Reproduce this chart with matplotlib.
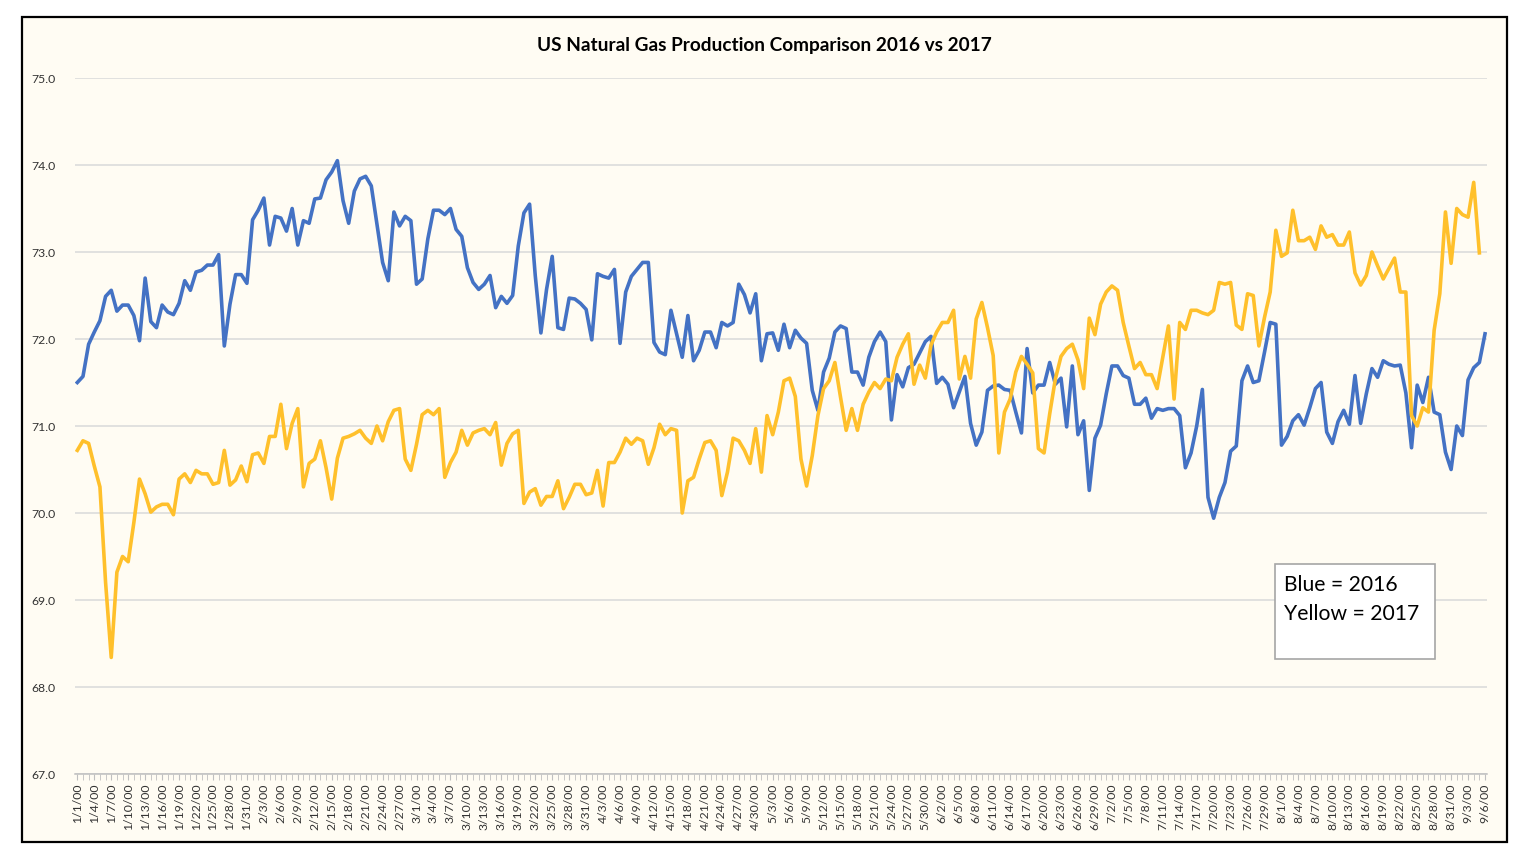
import matplotlib.pyplot as plt
import matplotlib.patches as patches
import pandas as pd
import numpy as np

plt.rcParams['font.family'] = ['Lato', 'DejaVu Sans']

# daily production, bcf/d
prod_2016 = [
    71.50, 71.57, 71.94, 72.08, 72.21, 72.49, 72.56, 72.32, 72.39, 72.39,
    72.27, 71.98, 72.70, 72.20, 72.13, 72.39, 72.31, 72.28, 72.41, 72.67,
    72.56, 72.77, 72.79, 72.85, 72.85, 72.97, 71.92, 72.40, 72.74, 72.74,
    72.64, 73.37, 73.48, 73.62, 73.08, 73.41, 73.39, 73.24, 73.50, 73.08,
    73.36, 73.33, 73.61, 73.62, 73.83, 73.92, 74.05, 73.59, 73.33, 73.70,
    73.84, 73.87, 73.76, 73.32, 72.88, 72.67, 73.46, 73.30, 73.41, 73.36,
    72.63, 72.69, 73.15, 73.48, 73.48, 73.43, 73.50, 73.26, 73.18, 72.82,
    72.65, 72.57, 72.63, 72.73, 72.36, 72.49, 72.41, 72.50, 73.07, 73.45,
    73.55, 72.73, 72.07, 72.57, 72.95, 72.13, 72.11, 72.47, 72.46, 72.41,
    72.34, 71.99, 72.75, 72.72, 72.70, 72.80, 71.95, 72.54, 72.72, 72.80,
    72.88, 72.88, 71.96, 71.85, 71.82, 72.33, 72.06, 71.79, 72.27, 71.75,
    71.87, 72.08, 72.08, 71.90, 72.19, 72.15, 72.19, 72.63, 72.51, 72.30,
    72.52, 71.75, 72.06, 72.07, 71.87, 72.17, 71.90, 72.10, 72.01, 71.95,
    71.41, 71.18, 71.62, 71.78, 72.08, 72.15, 72.12, 71.62, 71.62, 71.47,
    71.79, 71.97, 72.08, 71.97, 71.07, 71.59, 71.45, 71.67, 71.71, 71.84,
    71.97, 72.03, 71.49, 71.56, 71.48, 71.21, 71.39, 71.57, 71.03, 70.78,
    70.93, 71.41, 71.46, 71.47, 71.42, 71.41, 71.16, 70.92, 71.89, 71.38,
    71.47, 71.47, 71.73, 71.48, 71.55, 70.99, 71.69, 70.90, 71.06, 70.26,
    70.86, 71.01, 71.37, 71.69, 71.69, 71.58, 71.55, 71.25, 71.25, 71.32,
    71.09, 71.20, 71.18, 71.20, 71.20, 71.12, 70.52, 70.69, 71.00, 71.42,
    70.18, 69.94, 70.18, 70.35, 70.71, 70.77, 71.52, 71.69, 71.50, 71.52,
    71.85, 72.19, 72.17, 70.78, 70.88, 71.06, 71.13, 71.01, 71.21, 71.43,
    71.50, 70.93, 70.80, 71.05, 71.18, 71.02, 71.58, 71.03, 71.37, 71.66,
    71.56, 71.75, 71.71, 71.69, 71.70, 71.38, 70.75, 71.47, 71.27, 71.56,
    71.16, 71.13, 70.70, 70.50, 71.00, 70.89, 71.53, 71.67, 71.73, 72.06,
]

prod_2017 = [
    70.72, 70.83, 70.80, 70.54, 70.30, 69.20, 68.34, 69.32, 69.50, 69.44,
    69.89, 70.39, 70.22, 70.01, 70.07, 70.10, 70.10, 69.98, 70.39, 70.45,
    70.35, 70.49, 70.45, 70.45, 70.33, 70.35, 70.72, 70.32, 70.38, 70.54,
    70.36, 70.67, 70.69, 70.57, 70.88, 70.88, 71.25, 70.74, 71.03, 71.20,
    70.30, 70.57, 70.62, 70.83, 70.52, 70.16, 70.63, 70.86, 70.88, 70.91,
    70.95, 70.86, 70.80, 71.00, 70.83, 71.05, 71.18, 71.20, 70.62, 70.49,
    70.79, 71.13, 71.18, 71.13, 71.20, 70.41, 70.58, 70.70, 70.95, 70.78,
    70.92, 70.95, 70.97, 70.90, 71.04, 70.55, 70.80, 70.91, 70.95, 70.11,
    70.24, 70.28, 70.09, 70.19, 70.19, 70.37, 70.05, 70.18, 70.33, 70.33,
    70.21, 70.23, 70.49, 70.08, 70.58, 70.58, 70.70, 70.86, 70.79, 70.86,
    70.83, 70.56, 70.75, 71.02, 70.90, 70.97, 70.95, 70.00, 70.37, 70.41,
    70.62, 70.81, 70.83, 70.72, 70.20, 70.47, 70.86, 70.83, 70.72, 70.57,
    70.97, 70.47, 71.12, 70.90, 71.16, 71.52, 71.55, 71.34, 70.62, 70.31,
    70.66, 71.12, 71.43, 71.52, 71.73, 71.33, 70.95, 71.20, 70.95, 71.25,
    71.39, 71.50, 71.43, 71.54, 71.52, 71.79, 71.94, 72.06, 71.48, 71.70,
    71.55, 71.93, 72.08, 72.19, 72.19, 72.33, 71.54, 71.80, 71.55, 72.23,
    72.42, 72.13, 71.81, 70.69, 71.16, 71.31, 71.62, 71.80, 71.71, 71.61,
    70.74, 70.69, 71.14, 71.54, 71.80, 71.89, 71.94, 71.76, 71.43, 72.24,
    72.05, 72.40, 72.54, 72.61, 72.56, 72.19, 71.92, 71.66, 71.73, 71.59,
    71.59, 71.43, 71.79, 72.15, 71.31, 72.19, 72.11, 72.33, 72.33, 72.30,
    72.28, 72.33, 72.65, 72.63, 72.65, 72.16, 72.11, 72.52, 72.50, 71.92,
    72.25, 72.54, 73.25, 72.95, 72.99, 73.48, 73.13, 73.13, 73.17, 73.03,
    73.30, 73.17, 73.20, 73.08, 73.08, 73.23, 72.76, 72.62, 72.73, 73.00,
    72.84, 72.69, 72.81, 72.93, 72.54, 72.54, 71.12, 71.00, 71.21, 71.16,
    72.10, 72.52, 73.46, 72.87, 73.50, 73.43, 73.40, 73.80, 72.99,
]

# category labels as excel shows them (year stripped to 00)
dates = pd.date_range('2000-01-01', '2000-09-06', freq='D')
day_labels = [f"{d.month}/{d.day}/00" for d in dates]
y_ticks = [67, 68, 69, 70, 71, 72, 73, 74, 75]

W, H = 1522, 854
fig = plt.figure(figsize=(W / 100, H / 100), dpi=100)
fig.patch.set_facecolor('white')

# chart area frame, kept behind the axes
frame = patches.Rectangle((22 / W, 1 - 843 / H), 1485 / W, 825 / H,
                          transform=fig.transFigure, facecolor='#FFFCF3',
                          edgecolor='black', linewidth=1.6, zorder=-10)
fig.patches.append(frame)

ax = fig.add_axes([75 / W, 1 - 775 / H, 1412 / W, 696 / H])
ax.set_facecolor('none')

x = np.arange(len(day_labels))
ax.plot(x[:len(prod_2016)], prod_2016, color='#4472C4', lw=2.6, solid_joinstyle='round', zorder=3)
ax.plot(x[:len(prod_2017)], prod_2017, color='#FFC02B', lw=2.6, solid_joinstyle='round', zorder=3)

ax.set_xlim(-0.41, 249.35)
ax.set_ylim(67, 75)

ax.set_yticks(y_ticks)
ax.set_yticklabels([f"{v:.1f}" for v in y_ticks], fontsize=8.8, color='#333333')
ax.tick_params(axis='y', length=0, pad=14)
ax.grid(axis='y', color='#D9D9D9', lw=1.1)
ax.set_axisbelow(True)

ax.set_xticks(x[::3])
ax.set_xticklabels(day_labels[::3], rotation=90, fontsize=8.8, color='#333333')
ax.set_xticks(x, minor=True)
ax.tick_params(axis='x', which='major', length=4, color='#BFBFBF', pad=2)
ax.tick_params(axis='x', which='minor', length=4, color='#BFBFBF')

for side in ['top', 'right', 'left']:
    ax.spines[side].set_visible(False)
ax.spines['bottom'].set_color('#BFBFBF')
ax.spines['bottom'].set_linewidth(1.1)

fig.text(764 / W, 1 - 46 / H, 'US Natural Gas Production Comparison 2016 vs 2017',
         ha='center', va='center', fontsize=13.7, fontweight='bold')

# text box standing in for the legend
box = patches.Rectangle((1275 / W, 1 - 660 / H), 160 / W, 95 / H,
                        transform=fig.transFigure, facecolor='white',
                        edgecolor='#A6A6A6', linewidth=1.2, zorder=5)
fig.patches.append(box)
fig.text(1284 / W, 1 - 585 / H, 'Blue = 2016', ha='left', va='center', fontsize=15.2, zorder=6)
fig.text(1284 / W, 1 - 614 / H, 'Yellow = 2017', ha='left', va='center', fontsize=15.2, zorder=6)

fig.savefig('out.png', dpi=100, facecolor=fig.get_facecolor())
